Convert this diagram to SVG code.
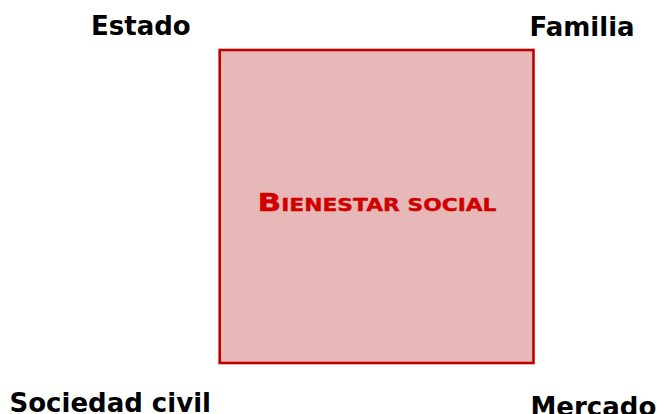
<svg xmlns="http://www.w3.org/2000/svg" width="657" height="414" viewBox="0 0 657 414">
<style>
.lbl{font-family:"DejaVu Sans","Verdana",sans-serif;font-weight:bold;font-size:26px;fill:#000}
.title{font-family:"DejaVu Sans","Verdana",sans-serif;font-weight:bold;fill:#D00000;stroke:#D00000;stroke-width:0.4}
</style>
<rect width="657" height="414" fill="#ffffff"/>
<g id="bienestar">
<rect x="219.7" y="50" width="313.8" height="313" fill="#E6B9B8" stroke="#C00000" stroke-width="2.6"/>
<text class="title" x="257.5" y="210.5" textLength="239" lengthAdjust="spacingAndGlyphs"><tspan font-size="25">B</tspan><tspan font-size="17.5">IENESTAR SOCIAL</tspan></text>
</g>
<g id="estado"><text class="lbl" x="91" y="35">Estado</text></g>
<g id="familia"><text class="lbl" x="529.5" y="36">Familia</text></g>
<g id="sociedad"><text class="lbl" x="9.5" y="412">Sociedad civil</text></g>
<g id="mercado"><text class="lbl" x="530.5" y="416">Mercado</text></g>
<g id="connectors"/>
</svg>
